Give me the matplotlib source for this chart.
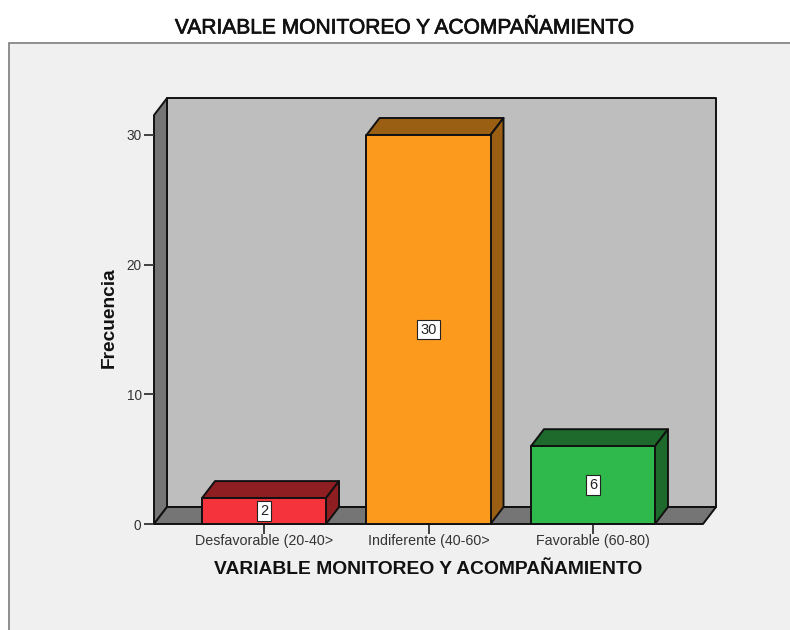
import matplotlib
matplotlib.use("Agg")
import matplotlib.pyplot as plt
import matplotlib.patheffects as pe
from matplotlib.patches import Polygon, Rectangle

categories = ["Desfavorable (20-40>", "Indiferente (40-60>", "Favorable (60-80)"]
values = [2, 30, 6]
front_colors = ["#f4333c", "#fc9a1e", "#2fb94c"]
dark_colors = ["#8e1e22", "#9a5f13", "#1d6a2c"]
y_ticks = [0, 10, 20, 30]
title = "VARIABLE MONITOREO Y ACOMPAÑAMIENTO"
y_label = "Frecuencia"

W, H = 790, 630
plt.rcParams["font.family"] = ["Liberation Sans", "DejaVu Sans"]

fig = plt.figure(figsize=(W / 100, H / 100), dpi=100, facecolor="white")


def rect_px(x0, y0, x1, y1):
    # pixel box (y from the top) to figure fractions
    return [x0 / W, 1 - y1 / H, (x1 - x0) / W, (y1 - y0) / H]


bg = fig.add_axes([0, 0, 1, 1], zorder=0)
bg.set_xlim(0, W)
bg.set_ylim(H, 0)
bg.axis("off")
bg.add_patch(Rectangle((9, 43), W, H, facecolor="#f0f0f0", edgecolor="#7d7d7d", linewidth=1.2))

ax = fig.add_axes(rect_px(154, 135, 703, 524), zorder=1)
ax.patch.set_visible(False)
x_min, x_max = -0.669, 2.669
ax.set_xlim(x_min, x_max)
ax.set_ylim(0, 30)
for s in ax.spines.values():
    s.set_visible(False)

dx = 0.079
dy = 1.31
wall_top = 31.53
bar_w = 0.754
edge = dict(edgecolor="#111111", linewidth=1.4, clip_on=False, joinstyle="round")

# back wall, left wall, floor
ax.add_patch(Polygon([(x_min + dx, dy), (x_max + dx, dy), (x_max + dx, wall_top + dy), (x_min + dx, wall_top + dy)],
                     facecolor="#bebebe", zorder=1, **edge))
ax.add_patch(Polygon([(x_min, 0), (x_min + dx, dy), (x_min + dx, wall_top + dy), (x_min, wall_top)],
                     facecolor="#757575", zorder=1, **edge))
ax.add_patch(Polygon([(x_min, 0), (x_max, 0), (x_max + dx, dy), (x_min + dx, dy)],
                     facecolor="#757575", zorder=1, **edge))

for i, v in enumerate(values):
    l = i - bar_w / 2
    r = i + bar_w / 2
    ax.add_patch(Polygon([(l, v), (r, v), (r + dx, v + dy), (l + dx, v + dy)],
                         facecolor=dark_colors[i], zorder=2, **edge))
    ax.add_patch(Polygon([(r, 0), (r + dx, dy), (r + dx, v + dy), (r, v)],
                         facecolor=dark_colors[i], zorder=2, **edge))
    ax.bar(i, v, width=bar_w, color=front_colors[i], zorder=3, **edge)
    ax.text(i, v / 2, str(v), ha="center", va="center", fontsize=10.5, color="#222222", zorder=4,
            bbox=dict(boxstyle="square,pad=0.2", facecolor="white", edgecolor="#222222", linewidth=0.8))

ax.set_xticks(range(len(categories)))
ax.set_xticklabels(categories, fontsize=10.3, color="#333333")
ax.set_yticks(y_ticks)
ax.tick_params(axis="x", length=7, width=1.3, color="#333333", pad=0.5)
ax.tick_params(axis="y", length=7, width=1.3, color="#333333", pad=2, labelsize=9.8, labelcolor="#333333")

t = fig.text(405 / W, 1 - 28 / H, title, ha="center", va="center", fontsize=15.1, color="#111111")
t.set_path_effects([pe.withStroke(linewidth=0.5, foreground="#111111")])
fig.text(428 / W, 1 - 570 / H, title, ha="center", va="center", fontsize=13.85, fontweight="bold", color="#111111")
fig.text(109 / W, 1 - 318 / H, y_label, ha="center", va="center", rotation=90, fontsize=13.8,
         fontweight="bold", color="#111111")

fig.savefig("out.png", dpi=100)
